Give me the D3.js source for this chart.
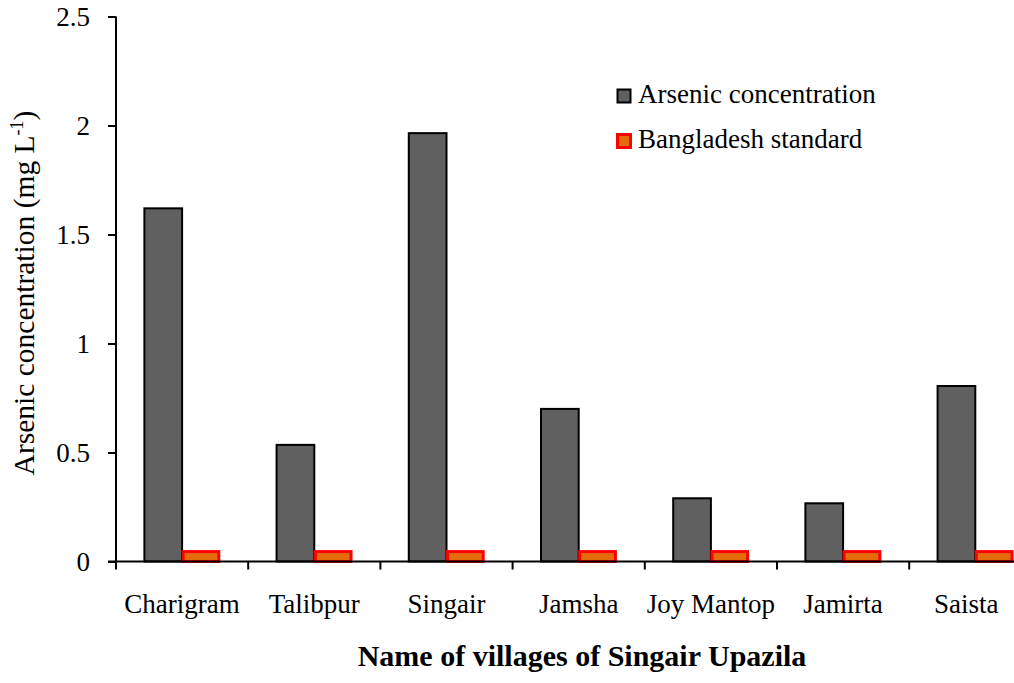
<!DOCTYPE html>
<html>
<head>
<meta charset="utf-8">
<script src="https://cdn.jsdelivr.net/npm/d3@7"></script>
<style>
  body { margin: 0; background: #fff; }
</style>
</head>
<body>
<div id="chart"></div>
<script>
// data
var villages = ["Charigram", "Talibpur", "Singair", "Jamsha", "Joy Mantop", "Jamirta", "Saista"]
var arsenic = [1.62, 0.535, 1.965, 0.70, 0.29, 0.267, 0.805]
var bdStandard = [0.05, 0.05, 0.05, 0.05, 0.05, 0.05, 0.05]
var seriesNames = ["Arsenic concentration", "Bangladesh standard"]
var yTicks = [0, 0.5, 1, 1.5, 2, 2.5]

var width = 1014, height = 683
var margin = { top: 16.5, left: 116, bottom: 121.5 }
var band = 132.2
var serif = "'Liberation Serif'"

var data = villages.map(function (v, i) {
    return { village: v, values: [arsenic[i], bdStandard[i]] }
})

var svg = d3.select("#chart").append("svg")
    .attr("width", width)
    .attr("height", height)

svg.append("rect").attr("width", width).attr("height", height).attr("fill", "#fff")

var y = d3.scaleLinear()
    .domain([0, 2.5])
    .range([height - margin.bottom, margin.top])

var x0 = d3.scaleBand()
    .domain(villages)
    .range([margin.left, margin.left + band * villages.length])
    .padding(0)

var x1 = d3.scaleBand()
    .domain(seriesNames)
    .range([0, x0.bandwidth()])
    .paddingInner(0)
    .paddingOuter(0.753)

var fills = ["#606060", "#E46C0A"]
var strokes = ["#000", "#FF0000"]
var strokeW = [2, 3]

var groups = svg.selectAll(".grp")
    .data(data)
    .enter().append("g")
    .attr("class", "grp")
    .attr("transform", function (d) { return "translate(" + x0(d.village) + ",0)" })

groups.selectAll("rect")
    .data(function (d) { return d.values.map(function (v, j) { return { s: seriesNames[j], v: v, j: j } }) })
    .enter().append("rect")
    .attr("x", function (d) { return x1(d.s) + (d.j == 1 ? 1 : 0) })
    .attr("width", function (d) { return x1.bandwidth() - (d.j == 1 ? 2 : 0) })
    .attr("y", function (d) { return y(d.v) + (d.j == 1 ? 1 : 0) })
    .attr("height", function (d) { return y(0) - y(d.v) - (d.j == 1 ? 1 : 0) })
    .attr("fill", function (d) { return fills[d.j] })
    .attr("stroke", function (d) { return strokes[d.j] })
    .attr("stroke-width", function (d) { return strokeW[d.j] })

// y axis
var yAxis = svg.append("g")
    .attr("transform", "translate(" + margin.left + ",0)")
    .call(d3.axisLeft(y).tickValues(yTicks).tickSize(8).tickPadding(18).tickFormat(d3.format("")))
yAxis.selectAll("path, line").attr("stroke", "#000").attr("stroke-width", 2)
yAxis.select(".domain").attr("d", "M0," + margin.top + "V" + y(0))
yAxis.selectAll("text").style("font-size", "27px").style("font-family", serif).attr("fill", "#000").attr("dy", "0.35em")

// x axis
var xTickPos = villages.map(function (v) { return x0(v) }).concat([x0.range()[1]])
var xAxis = svg.append("g").attr("transform", "translate(0," + y(0) + ")")
xAxis.append("line")
    .attr("x1", margin.left - 8).attr("x2", width)
    .attr("stroke", "#000").attr("stroke-width", 2)
xAxis.selectAll(".tk")
    .data(xTickPos)
    .enter().append("line")
    .attr("x1", function (d) { return d }).attr("x2", function (d) { return d })
    .attr("y1", 0).attr("y2", 8)
    .attr("stroke", "#000").attr("stroke-width", 2)
xAxis.selectAll(".lbl")
    .data(villages)
    .enter().append("text")
    .attr("x", function (d) { return x0(d) + x0.bandwidth() / 2 - (d == "Saista" ? 9 : 0) })
    .attr("y", 51)
    .attr("text-anchor", "middle")
    .style("font-size", "27px")
    .style("font-family", serif)
    .text(function (d) { return d })

// axis titles
svg.append("text")
    .attr("x", 582).attr("y", 666)
    .attr("text-anchor", "middle")
    .style("font-size", "30px")
    .style("font-family", serif)
    .style("font-weight", "bold")
    .text("Name of villages of Singair Upazila")

var yt = svg.append("text")
    .attr("transform", "translate(34,293) rotate(-90)")
    .attr("text-anchor", "middle")
    .style("font-size", "29.5px")
    .style("font-family", serif)
yt.append("tspan").text("Arsenic concentration (mg L")
yt.append("tspan").attr("dy", -11).style("font-size", "18px").text("-1")
yt.append("tspan").attr("dy", 11).text(")")

// legend
var legend = svg.append("g").attr("transform", "translate(617,89)")
seriesNames.forEach(function (s, i) {
    legend.append("rect")
        .attr("x", 0.5).attr("y", i * 45 + 0.5)
        .attr("width", 13).attr("height", 13)
        .attr("fill", fills[i]).attr("stroke", strokes[i]).attr("stroke-width", i == 1 ? 3 : 2)
    legend.append("text")
        .attr("x", 21).attr("y", i * 45 + 14)
        .style("font-size", "27px")
        .style("font-family", serif)
        .text(s)
})
</script>
</body>
</html>
